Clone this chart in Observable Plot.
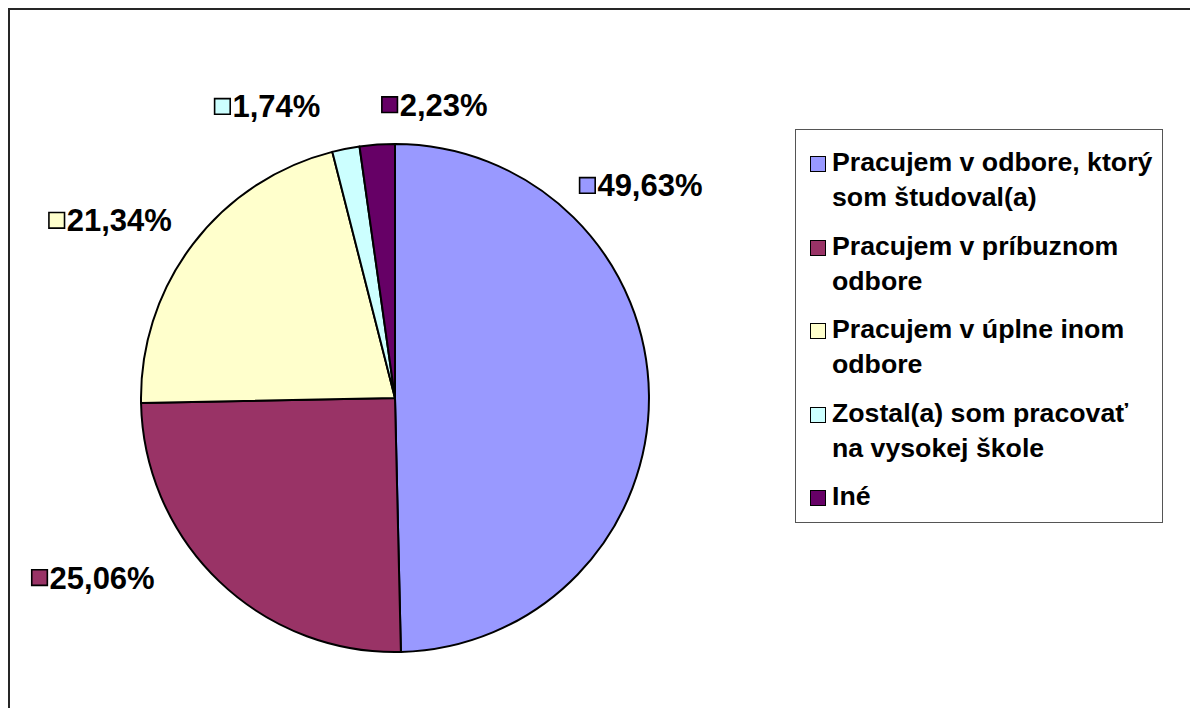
<!DOCTYPE html>
<html><head><meta charset="utf-8">
<script src="https://cdn.jsdelivr.net/npm/d3@7"></script>
<script src="https://cdn.jsdelivr.net/npm/@observablehq/plot@0.6"></script>
<style>
body{margin:0;background:#fff;font-family:"Liberation Sans",Arial,sans-serif;}
#wrap{position:relative;width:1190px;height:708px;overflow:hidden;background:#fff;}
#frame{position:absolute;left:8px;top:8px;width:1400px;height:900px;border:2px solid #262626;box-sizing:border-box;}
#chart{position:absolute;left:0;top:0;}
#legend{position:absolute;left:795px;top:129px;width:368px;height:394px;border:1px solid #555;box-sizing:border-box;background:#fff;}
.items{position:absolute;left:14px;top:15px;display:flex;flex-direction:column;gap:13.5px;}
.item{position:relative;padding-left:22px;font-weight:bold;font-size:26.7px;line-height:35px;color:#000;white-space:pre-line;}
.sw{position:absolute;left:0;top:11px;width:16px;height:16px;border:1.6px solid #000;box-sizing:border-box;}
</style></head>
<body>
<div id="wrap"><div id="frame"></div><div id="chart"></div><div id="legend"><div class="items"></div></div></div>
<script>
// ---- data ----
const categories = [
  "Pracujem v odbore, ktorý\nsom študoval(a)",
  "Pracujem v príbuznom\nodbore",
  "Pracujem v úplne inom\nodbore",
  "Zostal(a) som pracovať\nna vysokej škole",
  "Iné"
];
const values = [49.63, 25.06, 21.34, 1.74, 2.23];
const valueLabels = ["49,63%", "25,06%", "21,34%", "1,74%", "2,23%"];
const colors = ["#9999FF", "#993366", "#FFFFCC", "#CCFFFF", "#660066"];

// ---- layout (label placement: angle in degrees clockwise from top, distance in radii) ----
const labelAngle = [40.8, 243.8, 297.2, 328.2, 357.3];
const labelDist = [1.108, 1.597, 1.535, 1.353, 1.158];

const data = values.map((v, i) => ({category: categories[i], value: v, label: valueLabels[i], color: colors[i]}));
const arcs = d3.pie().sort(null).value(d => d.value)(data);
const labels = data.map((d, i) => {
  const a = labelAngle[i] * Math.PI / 180;
  return {...d, lx: labelDist[i] * Math.sin(a), ly: labelDist[i] * Math.cos(a)};
});

function pieMark(index, scales, values_, dimensions, context) {
  const cx = scales.x(0), cy = scales.y(0);
  const r = scales.x(1) - scales.x(0);
  const arc = d3.arc().innerRadius(0).outerRadius(r);
  const g = d3.create("svg:g").attr("transform", `translate(${cx},${cy})`);
  g.selectAll("path").data(arcs).join("path")
    .attr("d", arc)
    .attr("fill", d => d.data.color)
    .attr("stroke", "#000")
    .attr("stroke-width", 2)
    .attr("stroke-linejoin", "round");
  return g.node();
}

const chart = Plot.plot({
  width: 1190,
  height: 708,
  margin: 0,
  style: {background: "transparent", overflow: "visible"},
  x: {domain: [-1, 1], range: [141, 649], axis: null},
  y: {domain: [-1, 1], range: [652, 144], axis: null},
  marks: [
    pieMark,
    Plot.dot(labels, {x: "lx", y: "ly", symbol: "square", r: 8.8, dx: 8, fill: d => d.color, stroke: "#000", strokeWidth: 1.6}),
    Plot.text(labels, {x: "lx", y: "ly", text: "label", textAnchor: "start", dx: 18, dy: 1, fontSize: 31, fontWeight: "bold", fontFamily: "Liberation Sans, Arial, sans-serif", fill: "#000"})
  ]
});
document.getElementById("chart").appendChild(chart);

// ---- legend ----
const items = d3.select("#legend .items");
data.forEach(d => {
  const it = items.append("div").attr("class", "item");
  it.append("span").attr("class", "sw").style("background", d.color);
  it.append("span").text(d.category);
});
</script>
</body></html>
